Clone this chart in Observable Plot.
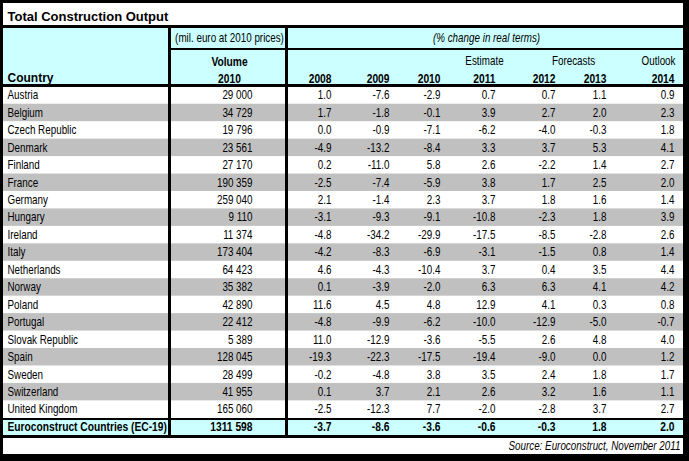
<!DOCTYPE html>
<html><head><meta charset="utf-8">
<script src="https://cdn.jsdelivr.net/npm/d3@7"></script>
<script src="https://cdn.jsdelivr.net/npm/@observablehq/plot@0.6"></script>
<style>body{margin:0;background:#fff}</style>
</head><body><div id="chart"></div>
<script>
// ---------- data ----------
const title = "Total Construction Output";
const countries = ["Austria","Belgium","Czech Republic","Denmark","Finland","France","Germany","Hungary","Ireland","Italy","Netherlands","Norway","Poland","Portugal","Slovak Republic","Spain","Sweden","Switzerland","United Kingdom"];
const volume2010 = [29000,34729,19796,23561,27170,190359,259040,9110,11374,173404,64423,35382,42890,22412,5389,128045,28499,41955,165060];
const years = ["2008","2009","2010","2011","2012","2013","2014"];
const g2008 = [1.0,1.7,0.0,-4.9,0.2,-2.5,2.1,-3.1,-4.8,-4.2,4.6,0.1,11.6,-4.8,11.0,-19.3,-0.2,0.1,-2.5];
const g2009 = [-7.6,-1.8,-0.9,-13.2,-11.0,-7.4,-1.4,-9.3,-34.2,-8.3,-4.3,-3.9,4.5,-9.9,-12.9,-22.3,-4.8,3.7,-12.3];
const g2010 = [-2.9,-0.1,-7.1,-8.4,5.8,-5.9,2.3,-9.1,-29.9,-6.9,-10.4,-2.0,4.8,-6.2,-3.6,-17.5,3.8,2.1,7.7];
const g2011 = [0.7,3.9,-6.2,3.3,2.6,3.8,3.7,-10.8,-17.5,-3.1,3.7,6.3,12.9,-10.0,-5.5,-19.4,3.5,2.6,-2.0];
const g2012 = [0.7,2.7,-4.0,3.7,-2.2,1.7,1.8,-2.3,-8.5,-1.5,0.4,6.3,4.1,-12.9,2.6,-9.0,2.4,3.2,-2.8];
const g2013 = [1.1,2.0,-0.3,5.3,1.4,2.5,1.6,1.8,-2.8,0.8,3.5,4.1,0.3,-5.0,4.8,0.0,1.8,1.6,3.7];
const g2014 = [0.9,2.3,1.8,4.1,2.7,2.0,1.4,3.9,2.6,1.4,4.4,4.2,0.8,-0.7,4.0,1.2,1.7,1.1,2.7];
const growth = [g2008,g2009,g2010,g2011,g2012,g2013,g2014];
const totalLabel = "Euroconstruct Countries (EC-19)";
const totalVolume = 1311598;
const totalGrowth = [-3.7,-8.6,-3.6,-0.6,-0.3,1.8,2.0];
const headVolumeUnit = "(mil. euro at 2010 prices)";
const headGrowthUnit = "(% change in real terms)";
const headVolume = ["Volume","2010"];
const headCountry = "Country";
const headNotes = ["Estimate","Forecasts","Outlook"];
const source = "Source: Euroconstruct, November 2011";

// ---------- layout ----------
const W = 689, H = 461;
const ROW0 = 95, ROWH = 17.45;
const ry = px => (px - ROW0) / ROWH;       // pixel layout position -> row units
const colRight = [331, 389, 440, 495, 555, 606, 674];
const volRight = 252, volCenter = 229;
const NARROW = "'Arial Narrow','Liberation Sans',Arial,sans-serif";
const WIDE = "'Liberation Sans',Arial,sans-serif";
const SQUEEZE = 0.82;
const CYAN = "#ccffff", GREY = "#c0c0c0";

const fmtVol = n => n >= 1000 ? Math.floor(n / 1000) + " " + String(n % 1000).padStart(3, "0") : String(n);
const fmtG = v => v.toFixed(1);

const box = (x1, x2, y1, y2, fill) =>
  Plot.rect([0], {x1: () => x1, x2: () => x2, y1: () => ry(y1), y2: () => ry(y2), fill});
const label = (text, x, ypx, opts = {}) =>
  Plot.text([text], {x: () => x, y: () => ry(ypx), text: d => d, fill: "black",
    fontFamily: NARROW, fontSize: 12, ...opts});

const marks = [
  box(0, W, 0, H, "black"),
  box(3, 683, 3, 25, "white"),
  box(3, 683, 28, 84, CYAN),
  box(3, 683, 86, 418, "white"),
  Plot.rect(countries, {filter: (d, i) => i % 2 === 1, x1: () => 3, x2: () => 683,
    y1: (d, i) => i - 0.5, y2: (d, i) => i + 0.5, fill: GREY}),
  box(3, 683, 420, 435, CYAN),
  box(3, 683, 438, 454, "white"),
  // rules
  box(0, W, 84, 87, "black"),
  box(168, 683, 48, 50, "black"),
  box(168, 171, 28, 435, "black"),
  box(285, 288, 28, 435, "black"),
  // title
  label(title, 7, 16, {textAnchor: "start", fontFamily: WIDE, fontWeight: "bold", fontSize: 13}),
  // header
  label(headVolumeUnit, volCenter, 38),
  label(headGrowthUnit, 486, 38, {fontStyle: "italic"}),
  label(headVolume[0], volCenter, 61, {fontWeight: "bold", fontSize: 12.5}),
  label(headVolume[1], volCenter, 78, {fontWeight: "bold", fontSize: 12.5}),
  label(headCountry, 7, 78, {textAnchor: "start", fontFamily: WIDE, fontWeight: "bold"}),
  label(headNotes[0], 484, 61),
  label(headNotes[1], 573, 61),
  label(headNotes[2], 675, 61, {textAnchor: "end"}),
  Plot.text(years, {x: (d, i) => colRight[i], y: () => ry(78), text: d => d, textAnchor: "end",
    fill: "black", fontFamily: NARROW, fontSize: 12.5, fontWeight: "bold"}),
  // body
  Plot.text(countries, {x: () => 7, y: (d, i) => i, text: d => d, textAnchor: "start",
    fill: "black", fontFamily: NARROW, fontSize: 12}),
  Plot.text(volume2010, {x: () => volRight, y: (d, i) => i, text: fmtVol, textAnchor: "end",
    fill: "black", fontFamily: NARROW, fontSize: 12}),
  ...growth.map((g, k) => Plot.text(g, {x: () => colRight[k], y: (d, i) => i, text: fmtG,
    textAnchor: "end", fill: "black", fontFamily: NARROW, fontSize: 12})),
  // total
  Plot.text([totalLabel], {x: () => 7, y: () => countries.length, text: d => d, textAnchor: "start",
    fill: "black", fontFamily: NARROW, fontSize: 12.5, fontWeight: "bold"}),
  Plot.text([totalVolume], {x: () => volRight, y: () => countries.length, text: fmtVol, textAnchor: "end",
    fill: "black", fontFamily: NARROW, fontSize: 12.5, fontWeight: "bold"}),
  Plot.text(totalGrowth, {x: (d, i) => colRight[i], y: () => countries.length, text: fmtG, textAnchor: "end",
    fill: "black", fontFamily: NARROW, fontSize: 12.5, fontWeight: "bold"}),
  // source
  label(source, 680, 446, {textAnchor: "end", fontStyle: "italic"})
];

const chart = Plot.plot({
  width: W, height: H, margin: 0,
  x: {type: "linear", domain: [0, W], range: [0, W], axis: null},
  y: {type: "linear", domain: [0, countries.length - 1], range: [ROW0, ROW0 + ROWH * (countries.length - 1)], axis: null},
  style: {background: "white"},
  marks
});
// emulate a narrow face: squeeze the narrow-family texts horizontally about their anchor
d3.select(chart).selectAll("g[font-family*='Narrow'] text").each(function() {
  const t = this.getAttribute("transform") || "";
  this.setAttribute("transform", `${t} scale(${SQUEEZE},1)`);
});
document.getElementById("chart").appendChild(chart);
</script>
</body></html>
